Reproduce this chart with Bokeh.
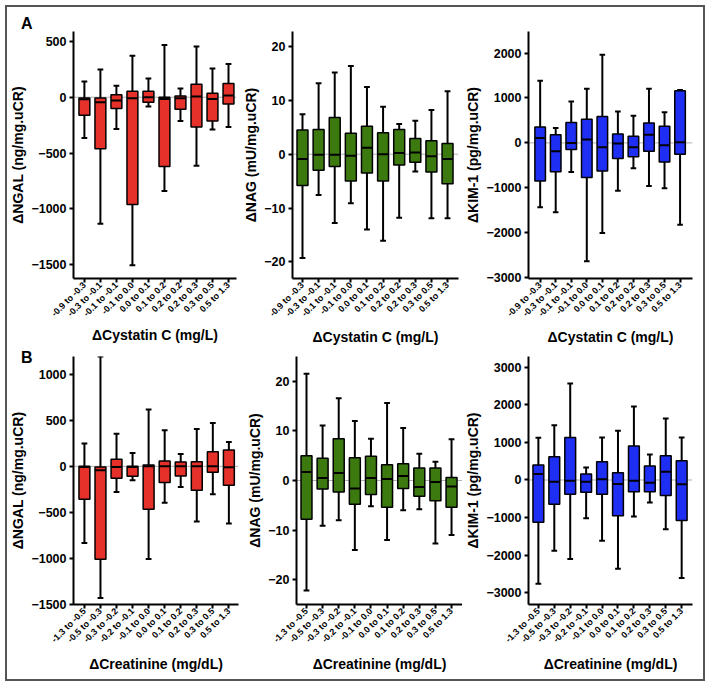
import math
from bokeh.plotting import figure
from bokeh.layouts import row, column
from bokeh.models import ColumnDataSource, Range1d, FixedTicker, Span, Div
from bokeh.transform import dodge
from bokeh.embed import file_html
from bokeh.resources import INLINE

# ---------------- data ----------------
cystatin_bins = ["-0.9 to -0.3", "-0.3 to -0.1", "-0.1 to -0.1", "-0.1 to 0.0", "0.0 to 0.1",
                 "0.1 to 0.2", "0.2 to 0.2", "0.2 to 0.3", "0.3 to 0.5", "0.5 to 1.3"]
creatinine_bins = ["-1.3 to -0.5", "-0.5 to -0.3", "-0.3 to -0.2", "-0.2 to -0.1", "-0.1 to 0.0",
                   "0.0 to 0.1", "0.1 to 0.2", "0.2 to 0.3", "0.3 to 0.5", "0.5 to 1.3"]

# Panel A: NGAL vs delta cystatin C
ngal_a_hi = [140, 249, 102, 370, 167, 468, 79, 453, 257, 298]
ngal_a_q3 = [-6, -6, 23, 53, 53, 0, 12, 117, 35, 123]
ngal_a_med = [-18, -44, -29, -9, 0, -15, -9, 6, -15, 15]
ngal_a_q1 = [-161, -462, -102, -959, -44, -620, -108, -266, -213, -61]
ngal_a_lo = [-365, -1132, -284, -1503, -82, -839, -213, -614, -289, -266]

# Panel A: NAG vs delta cystatin C
nag_a_hi = [7.4, 13.2, 15.2, 16.4, 12.5, 8.8, 5.6, 6.2, 8.2, 11.7]
nag_a_q3 = [4.5, 4.6, 6.8, 3.9, 5.2, 4.0, 4.6, 2.9, 2.5, 2.0]
nag_a_med = [-0.9, -0.1, -0.1, -0.3, 1.2, 0.0, 0.2, 0.3, -0.4, -0.9]
nag_a_q1 = [-5.8, -3.0, -2.3, -5.0, -3.5, -5.0, -2.0, -1.5, -3.3, -5.5]
nag_a_lo = [-19.3, -7.6, -12.8, -9.1, -14.0, -16.1, -11.8, -3.2, -11.9, -11.9]

# Panel A: KIM-1 vs delta cystatin C
kim_a_hi = [1382, 331, 919, 1205, 1962, 698, 603, 1205, 684, 1176]
kim_a_q3 = [353, 184, 456, 529, 588, 198, 147, 441, 368, 1161]
kim_a_med = [110, -184, 0, 74, -96, -15, -96, 184, -51, 15]
kim_a_q1 = [-845, -639, -147, -772, -625, -345, -309, -184, -426, -250]
kim_a_lo = [-1433, -1544, -647, -2631, -2007, -1066, -566, -956, -1007, -1823]

# Panel B: NGAL vs delta creatinine
ngal_b_hi = [249, 1196, 354, 145, 618, 394, 134, 408, 473, 264]
ngal_b_q3 = [0, -7, 76, 0, 14, 58, 47, 51, 159, 177]
ngal_b_med = [-7, -43, -7, -7, 0, 0, 0, 0, 0, -11]
ngal_b_q1 = [-358, -1012, -130, -108, -466, -177, -105, -260, -65, -206]
ngal_b_lo = [-835, -1434, -278, -152, -1008, -397, -224, -600, -303, -621]

# Panel B: NAG vs delta creatinine
nag_b_hi = [21.5, 11.1, 16.6, 12.0, 8.4, 15.6, 10.6, 5.4, 3.8, 8.3]
nag_b_q3 = [5.0, 4.5, 8.4, 4.6, 4.9, 3.2, 3.4, 2.5, 2.5, 0.6]
nag_b_med = [1.7, 0.5, 1.5, -1.6, 0.5, 0.3, 0.9, -1.3, -0.3, -1.2]
nag_b_q1 = [-7.8, -1.7, -2.3, -4.8, -2.8, -5.4, -1.6, -3.2, -4.1, -5.4]
nag_b_lo = [-22.2, -9.1, -8.0, -14.0, -5.2, -12.0, -6.0, -5.8, -12.7, -11.0]

# Panel B: KIM-1 vs delta creatinine
kim_b_hi = [1121, 1456, 2560, 335, 1130, 1306, 1950, 680, 1633, 1130]
kim_b_q3 = [397, 618, 1130, 159, 485, 194, 900, 371, 644, 512]
kim_b_med = [159, -44, -18, -44, 18, -106, -18, -71, 221, -115]
kim_b_q1 = [-1121, -644, -380, -327, -380, -953, -309, -309, -415, -1077]
kim_b_lo = [-2754, -1880, -2100, -1015, -1615, -2357, -971, -600, -1306, -2604]

# tick labels
ngal_a_ticks = [500, 0, -500, -1000, -1500]
nag_ticks = [20, 10, 0, -10, -20]
kim_a_ticks = [2000, 1000, 0, -1000, -2000, -3000]
ngal_b_ticks = [1000, 500, 0, -500, -1000, -1500]
kim_b_ticks = [3000, 2000, 1000, 0, -1000, -2000, -3000]

RED = "#E6302A"
GREEN = "#3C7A10"
BLUE = "#1E2EF2"
FONT = "Liberation Sans"

BOX_W = 0.68
CAP_W = 0.36


def panel(cats, hi, q3, med, q1, lo, color, ylabel, xlabel, yr, xr, yticks, geom, xlab_standoff):
    mbl, fw, mbr, mbt, fh, mbb = geom
    p = figure(width=mbl + fw + mbr, height=mbt + fh + mbb,
               x_range=Range1d(*xr), y_range=Range1d(*yr),
               output_backend="svg", toolbar_location=None,
               min_border_left=mbl, min_border_right=mbr,
               min_border_top=mbt, min_border_bottom=mbb)
    p.outline_line_color = None
    p.xgrid.visible = False
    p.ygrid.visible = False
    p.background_fill_color = "white"
    p.border_fill_color = "white"

    src = ColumnDataSource(dict(x=list(range(len(cats))), hi=hi, q3=q3, med=med, q1=q1, lo=lo))

    p.add_layout(Span(location=0, dimension="width", line_color="#b0b0b0", line_width=1, level="underlay"))

    p.segment(x0="x", y0="lo", x1="x", y1="hi", source=src, line_color="black", line_width=2)
    p.segment(x0=dodge("x", -CAP_W / 2, range=p.x_range), y0="hi", x1=dodge("x", CAP_W / 2, range=p.x_range), y1="hi",
              source=src, line_color="black", line_width=2)
    p.segment(x0=dodge("x", -CAP_W / 2, range=p.x_range), y0="lo", x1=dodge("x", CAP_W / 2, range=p.x_range), y1="lo",
              source=src, line_color="black", line_width=2)
    p.vbar(x="x", width=BOX_W, top="q3", bottom="q1", source=src, fill_color=color,
           line_color="black", line_width=1.5)
    p.segment(x0=dodge("x", -BOX_W / 2, range=p.x_range), y0="med", x1=dodge("x", BOX_W / 2, range=p.x_range), y1="med",
              source=src, line_color="black", line_width=2)

    # axes
    p.xaxis.ticker = FixedTicker(ticks=list(range(len(cats))))
    p.xaxis.major_label_overrides = {i: c for i, c in enumerate(cats)}
    p.xaxis.major_label_orientation = math.pi / 4
    p.yaxis.ticker = FixedTicker(ticks=yticks)
    for ax in (p.xaxis[0], p.yaxis[0]):
        ax.axis_line_width = 2
        ax.axis_line_color = "black"
        ax.major_tick_line_width = 2
        ax.major_tick_line_color = "black"
        ax.major_tick_out = 4
        ax.major_tick_in = 0
        ax.minor_tick_line_color = None
        ax.major_label_text_font = FONT
        ax.major_label_text_font_style = "bold"
        ax.major_label_text_color = "black"
        ax.axis_label_text_font = FONT
        ax.axis_label_text_font_style = "bold"
        ax.axis_label_text_font_size = "14px"
        ax.axis_label_text_color = "black"
    p.xaxis.major_label_text_font_size = "9px"
    p.xaxis.major_label_standoff = 1
    p.xaxis.axis_label_standoff = xlab_standoff
    p.yaxis.major_label_text_font_size = "12.5px"
    p.yaxis.major_label_standoff = 3
    p.yaxis.axis_label_standoff = 2
    p.xaxis.axis_label = xlabel
    p.yaxis.axis_label = ylabel
    return p


XC = "\u0394Cystatin C (mg/L)"
XCr = "\u0394Creatinine (mg/dL)"

# geometry: (min_border_left, frame_width, min_border_right, min_border_top, frame_height, min_border_bottom)
f1 = panel(cystatin_bins, ngal_a_hi, ngal_a_q3, ngal_a_med, ngal_a_q1, ngal_a_lo, RED,
           "\u0394NGAL (ng/mg.uCR)", XC, (-1622, 588), (-0.68, 9.5), ngal_a_ticks,
           (65, 164, 4, 23, 252, 66), 2)
f2 = panel(cystatin_bins, nag_a_hi, nag_a_q3, nag_a_med, nag_a_q1, nag_a_lo, GREEN,
           "\u0394NAG (mU/mg.uCR)", XC, (-23.1, 22.8), (-0.62, 9.68), nag_ticks,
           (52, 166, 4, 24, 249, 68), 4)
f3 = panel(cystatin_bins, kim_a_hi, kim_a_q3, kim_a_med, kim_a_q1, kim_a_lo, BLUE,
           "\u0394KIM-1 (pg/mg.uCR)", XC, (-3017, 2479), (-0.75, 9.8), kim_a_ticks,
           (62, 168, 11, 24, 249, 68), 4)

f4 = panel(creatinine_bins, ngal_b_hi, ngal_b_q3, ngal_b_med, ngal_b_q1, ngal_b_lo, RED,
           "\u0394NGAL (ng/mg.uCR)", XCr, (-1504, 1196), (-0.68, 9.6), ngal_b_ticks,
           (65, 166, 2, 7, 249, 75), 5)
f5 = panel(creatinine_bins, nag_b_hi, nag_b_q3, nag_b_med, nag_b_q1, nag_b_lo, GREEN,
           "\u0394NAG (mU/mg.uCR)", XCr, (-25.0, 25.0), (-0.62, 9.68), nag_ticks,
           (56, 166, 0, 8, 249, 74), 5)
f6 = panel(creatinine_bins, kim_b_hi, kim_b_q3, kim_b_med, kim_b_q1, kim_b_lo, BLUE,
           "\u0394KIM-1 (pg/mg.uCR)", XCr, (-3307, 3280), (-0.62, 9.68), kim_b_ticks,
           (64, 166, 11, 8, 249, 74), 5)

layout = column(row(f1, f2, f3), row(f4, f5, f6),
                styles={"position": "absolute", "left": "5px", "top": "5px",
                        "border": "2px solid #555555", "box-sizing": "content-box",
                        "padding": "0px", "background-color": "white"})

LETTER_STYLE = {"position": "absolute", "font-family": FONT, "font-weight": "bold",
                "font-size": "16px", "line-height": "16px", "color": "black", "z-index": "10"}
div_a = Div(text="A", width=14, height=16, styles=dict(LETTER_STYLE, left="16px", top="11px"))
div_b = Div(text="B", width=14, height=16, styles=dict(LETTER_STYLE, left="16px", top="345px"))

open("out.html", "w").write(file_html([layout, div_a, div_b], INLINE))
